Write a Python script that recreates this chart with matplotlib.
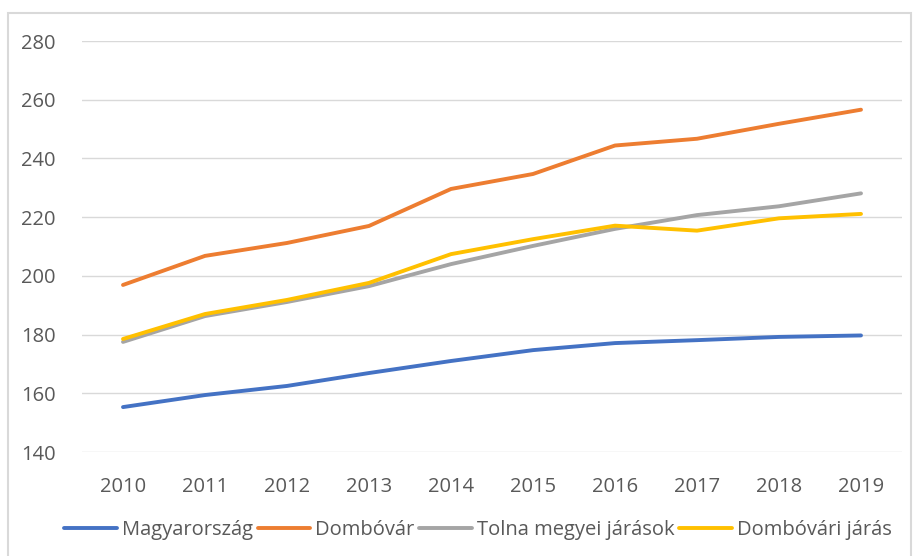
import matplotlib.pyplot as plt
from matplotlib.patches import Rectangle

years = [2010, 2011, 2012, 2013, 2014, 2015, 2016, 2017, 2018, 2019]
magyarorszag = [155.3, 159.4, 162.5, 166.9, 171.0, 174.7, 177.1, 178.1, 179.2, 179.7]
dombovar = [196.9, 206.8, 211.2, 217.0, 229.6, 234.7, 244.4, 246.7, 251.8, 256.6]
tolna = [177.5, 186.3, 191.1, 196.5, 204.0, 210.2, 216.0, 220.7, 223.7, 228.1]
dombovari_jaras = [178.5, 187.0, 191.8, 197.6, 207.4, 212.5, 217.1, 215.4, 219.6, 221.1]

series = [
    ("Magyarország", magyarorszag, "#4472c4"),
    ("Dombóvár", dombovar, "#ed7d31"),
    ("Tolna megyei járások", tolna, "#a5a5a5"),
    ("Dombóvári járás", dombovari_jaras, "#ffc000"),
]
yticks = [140, 160, 180, 200, 220, 240, 260, 280]

plt.rcParams['font.family'] = ['Open Sans', 'DejaVu Sans']

fig = plt.figure(figsize=(9.15, 5.56), dpi=100)
fig.patches.append(Rectangle((8 / 915, -0.01), 903 / 915, 1 - 13 / 556 + 0.01,
                             transform=fig.transFigure, fill=False,
                             edgecolor="#d9d9d9", linewidth=1.5))
ax = fig.add_axes([82 / 915, 1 - 452 / 556, 820 / 915, 411 / 556])

x = list(range(len(years)))
for name, vals, col in series:
    ax.plot(x, vals, color=col, linewidth=2.8, label=name, solid_capstyle='round')

ax.set_xlim(-0.5, len(years) - 0.5)
ax.set_ylim(140, 280)
ax.set_yticks(yticks)
ax.set_xticks(x)
ax.set_xticklabels([str(y) for y in years])
ax.grid(axis='y', color="#d9d9d9", linewidth=1)
ax.set_axisbelow(True)
for s in ax.spines.values():
    s.set_visible(False)
ax.tick_params(length=0, labelsize=14.5, colors="#595959")
ax.tick_params(axis='y', pad=19)
ax.tick_params(axis='x', pad=18)

ax.legend(loc='center', bbox_to_anchor=(478 / 915, 1 - 530 / 556),
          bbox_transform=fig.transFigure, ncol=4, frameon=False,
          fontsize=14.5, handlelength=2.6, handletextpad=0.25, columnspacing=0.25,
          labelcolor="#595959", borderpad=0)

fig.savefig("out.png", dpi=100)
